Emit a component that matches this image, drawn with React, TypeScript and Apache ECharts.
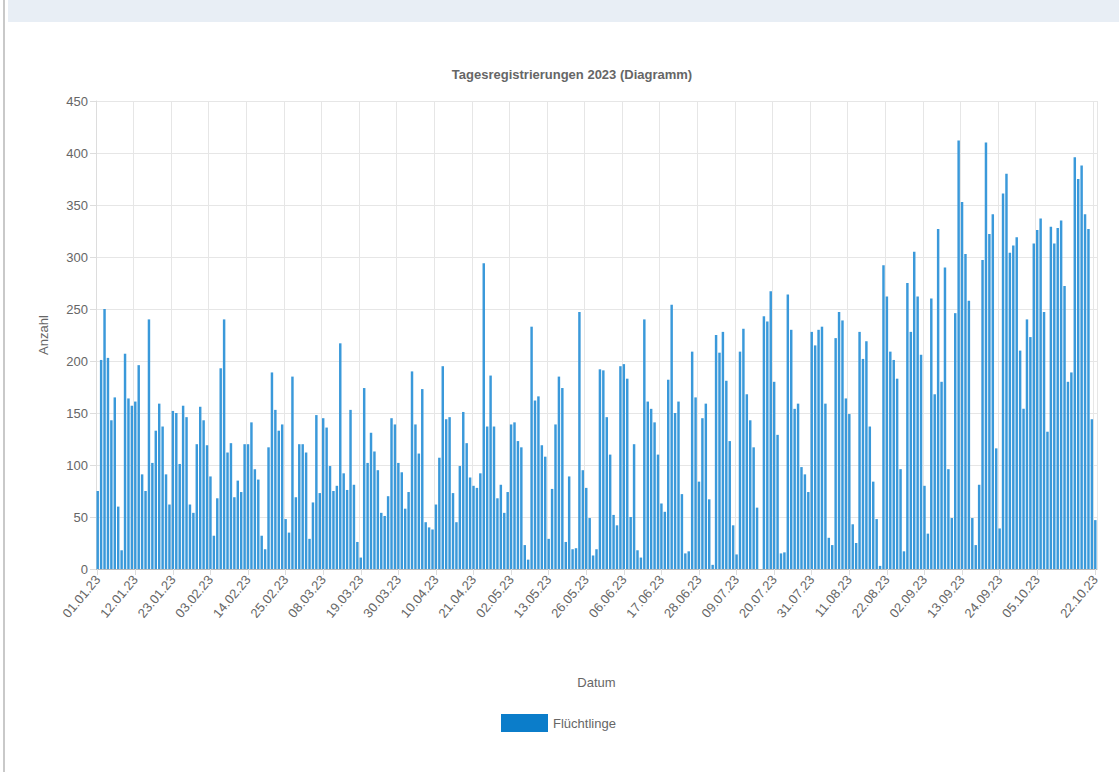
import React, { useEffect, useRef } from "react";
import * as echarts from "echarts";

// Daily registrations 2023 ("Flüchtlinge"), one value per listed day
const valuesJan = [75, 201, 250, 203, 143, 165, 60, 18, 207, 164, 157, 161, 196, 91, 75, 240, 102, 133, 159, 137, 91, 62, 152, 150, 101, 157, 146, 62, 54, 120, 156];
const valuesFeb = [143, 119, 89, 32, 68, 193, 240, 112, 121, 69, 85, 74, 120, 120, 141, 96, 86, 32, 19, 117, 189, 153, 133, 139, 48, 35, 185, 69];
const valuesMar = [120, 120, 112, 29, 64, 148, 73, 145, 136, 99, 75, 80, 217, 92, 76, 153, 81, 26, 11, 174, 102, 131, 113, 95, 54, 51, 70, 145, 139, 102, 93];
const valuesApr = [58, 74, 190, 139, 111, 173, 45, 40, 38, 62, 107, 195, 144, 146, 73, 45, 99, 151, 121, 88, 80, 78, 92, 294, 137, 186, 137, 68, 81, 54];
const valuesMay = [74, 139, 141, 123, 117, 23, 9, 233, 162, 166, 119, 108, 29, 77, 139, 185, 174, 26, 89, 19, 20, 247, 95, 78, 49, 13, 19, 192, 191];
const valuesJun = [146, 110, 52, 42, 195, 197, 183, 50, 120, 18, 11, 240, 161, 154, 141, 110, 63, 55, 182, 254, 150, 161, 72, 15, 17, 209, 165, 84, 145, 159];
const valuesJul = [67, 4, 225, 208, 228, 181, 123, 42, 14, 209, 231, 168, 143, 117, 59, 0, 243, 238, 267, 180, 129, 15, 16, 264, 230, 154, 159, 98, 91, 74, 228];
const valuesAug = [215, 230, 233, 159, 30, 23, 222, 247, 239, 164, 149, 43, 25, 228, 202, 219, 137, 84, 48, 3, 292, 262, 209, 201, 183, 96, 17, 275, 228, 305, 262];
const valuesSep = [206, 80, 34, 260, 168, 327, 180, 290, 96, 49, 246, 412, 353, 303, 258, 49, 23, 81, 297, 410, 322, 341, 116, 39, 361, 380, 304, 311, 319, 210];
const valuesOct = [154, 240, 223, 313, 326, 337, 247, 132, 329, 313, 328, 335, 272, 180, 189, 396, 375, 388, 341, 327, 144, 47];

const values = [
  ...valuesJan, ...valuesFeb, ...valuesMar, ...valuesApr, ...valuesMay,
  ...valuesJun, ...valuesJul, ...valuesAug, ...valuesSep, ...valuesOct,
];

// Category dates: 01.01.23 – 22.10.23, days without data omitted
const firstDay = "2023-01-01";
const lastDay = "2023-10-22";
const missingDays = ["24.05.23", "25.05.23"];

function buildDates(): string[] {
  const out: string[] = [];
  const d = new Date(firstDay + "T00:00:00Z");
  const end = new Date(lastDay + "T00:00:00Z");
  while (d.getTime() <= end.getTime()) {
    const s =
      String(d.getUTCDate()).padStart(2, "0") + "." +
      String(d.getUTCMonth() + 1).padStart(2, "0") + "." +
      String(d.getUTCFullYear()).slice(2);
    if (!missingDays.includes(s)) out.push(s);
    d.setUTCDate(d.getUTCDate() + 1);
  }
  return out;
}
const categories = buildDates();

const titleText = "Tagesregistrierungen 2023 (Diagramm)";
const seriesName = "Flüchtlinge";
const yName = "Anzahl";
const xName = "Datum";

export default function App() {
  const ref = useRef<HTMLDivElement>(null);
  useEffect(() => {
    if (!ref.current) return;
    const chart = echarts.init(ref.current, null, { renderer: "svg" });
    const last = categories.length - 1;
    const showLabel = (i: number) =>
      i === last || (i % 11 === 0 && last - i > 8);
    const font = "Liberation Sans, Arial, Helvetica, sans-serif";
    chart.setOption({
      animation: false,
      backgroundColor: "#ffffff",
      textStyle: { fontFamily: font },
      title: {
        text: titleText,
        left: 567,
        top: 63,
        textAlign: "center",
        textStyle: { fontSize: 13, fontWeight: "bold", color: "#666", fontFamily: font },
      },
      graphic: [
        { type: "rect", shape: { x: 8, y: 0, width: 1111, height: 22 }, style: { fill: "#e8eef5" }, silent: true },
        { type: "rect", shape: { x: 3, y: 0, width: 2, height: 772 }, style: { fill: "#c9c9c9" }, silent: true },
      ],
      legend: {
        data: [seriesName],
        left: 496,
        top: 709,
        icon: "rect",
        itemWidth: 47,
        itemHeight: 18,
        itemStyle: { color: "#0b7dca" },
        textStyle: { fontSize: 13, color: "#666", fontFamily: font },
      },
      grid: { left: 96, right: 22, top: 101, bottom: 203, containLabel: false },
      xAxis: {
        type: "category",
        data: categories,
        name: xName,
        nameLocation: "middle",
        nameGap: 107,
        nameTextStyle: { fontSize: 13, color: "#666" },
        axisLine: { show: true, lineStyle: { color: "#bbb" } },
        axisTick: { show: true, alignWithLabel: true, length: 6, interval: (i: number) => showLabel(i), lineStyle: { color: "#ddd" } },
        axisLabel: { interval: (i: number) => showLabel(i), rotate: 50, fontSize: 13, color: "#666", margin: 8 },
        splitLine: { show: true, interval: (i: number) => showLabel(i), lineStyle: { color: "#e6e6e6" } },
      },
      yAxis: {
        type: "value",
        min: 0,
        max: 450,
        interval: 50,
        name: yName,
        nameLocation: "middle",
        nameRotate: 90,
        nameGap: 46,
        nameTextStyle: { fontSize: 13, color: "#666" },
        axisLine: { show: true, lineStyle: { color: "#ddd" } },
        axisTick: { show: true, length: 6, lineStyle: { color: "#ddd" } },
        axisLabel: { fontSize: 13, color: "#666", margin: 8 },
        splitLine: { show: true, lineStyle: { color: "#e6e6e6" } },
      },
      series: [
        {
          name: seriesName,
          type: "bar",
          data: values,
          barCategoryGap: "28%",
          itemStyle: { color: "#3a99da" },
        },
      ],
    });
    return () => chart.dispose();
  }, []);
  return <div ref={ref} style={{ position: "fixed", left: 0, top: 0, width: 1119, height: 772 }} />;
}
